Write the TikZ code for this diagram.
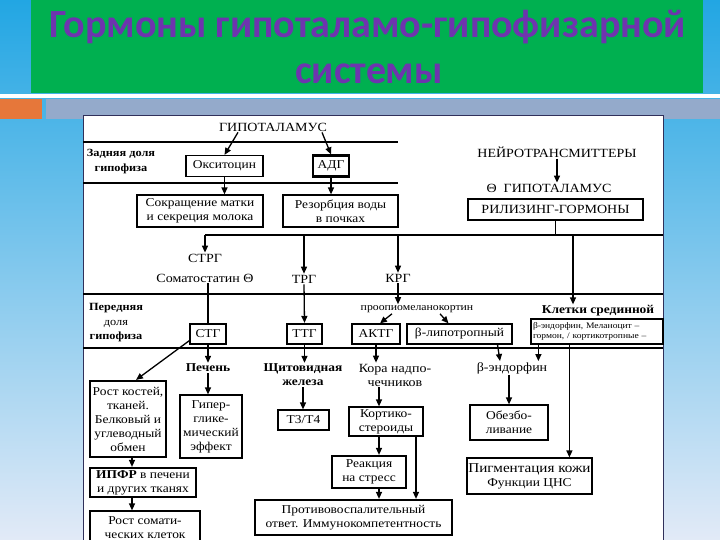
\documentclass[tikz,border=0pt]{standalone}
\usepackage{fontspec}
\setmainfont{Liberation Serif}[FakeStretch=1.12]
\newfontfamily\titlefont{Carlito}
\usetikzlibrary{arrows.meta,calc}
\definecolor{titlegreen}{HTML}{00B050}
\definecolor{titlepurple}{HTML}{6E34AE}
\definecolor{bgtop}{HTML}{22A6E3}
\definecolor{bgmid}{HTML}{80C9EE}
\definecolor{bgbot}{HTML}{E2EAF7}
\definecolor{orangebar}{HTML}{E6773A}
\definecolor{graybar}{HTML}{94AACB}
\definecolor{panelborder}{HTML}{30305A}
\newcommand\fsz[1]{\fontsize{#1}{#1}\selectfont}
\tikzset{
  hline/.style={line width=1.8pt},
  plainline/.style={line width=1.3pt},
  arr/.style={line width=1.3pt,-{Triangle[length=7pt,width=6pt]}},
  lbl/.style={align=center,inner sep=1pt,font=\fontsize{12.5}{14}\selectfont},
  blbl/.style={lbl,font=\bfseries\fontsize{12}{14}\selectfont},
  box/.style={draw,line width=1.2pt,fill=white,align=center,inner sep=1pt,font=\fontsize{12}{14}\selectfont},
  tbox/.style={box,line width=2.2pt},
}
\begin{document}
\begin{tikzpicture}[x=1pt,y=-1pt]
\useasboundingbox (0,0) rectangle (720,540);
% background
\shade[top color=bgtop, middle color=bgmid, bottom color=bgbot] (0,0) rectangle (720,540);
\fill[titlegreen] (31,0) rectangle (703,93);
\fill[white] (0,94) rectangle (720,98);
\fill[orangebar] (0,99) rectangle (42,119);
\fill[graybar] (46,99) rectangle (720,119);
\filldraw[fill=white,draw=panelborder,line width=0.8pt] (83,541) -- (83,115) -- (663,115) -- (663,541);
% title
\node[anchor=base,inner sep=0pt,text=titlepurple,font=\titlefont\bfseries\fontsize{40}{40}\selectfont] (t1) at (368,38) {Гормоны гипоталамо-гипофизарной};
\node[anchor=base,inner sep=0pt,text=titlepurple,font=\titlefont\bfseries\fontsize{40}{40}\selectfont] (t2) at (369,84) {системы};

% posterior lobe
\node[lbl] (hyp) at (273,127) {ГИПОТАЛАМУС};
\draw[hline] (83,142) -- (398,142);
\node[blbl,font=\bfseries\fontsize{11}{15}\selectfont] (zadn) at (121,162) {Задняя доля\\гипофиза};
\node[box,minimum width=77pt,minimum height=21pt] (oxy) at (224.5,166) {Окситоцин};
\node[tbox,minimum width=36pt,minimum height=21pt] (adg) at (331,166) {АДГ};
\draw[arr] ([xshift=-35pt]hyp.south) -- (oxy.north);
\draw[arr] ([xshift=49pt]hyp.south) -- (adg.north);
\draw[hline] (83,183) -- (398,183);
\node[box,minimum width=126pt,minimum height=32pt] (sokr) at (200,211) {Сокращение матки\\и секреция молока};
\node[box,minimum width=115pt,minimum height=32pt] (rez) at (340.5,211) {Резорбция воды\\в почках};
\draw[arr] (oxy.south) -- (oxy.south |- sokr.north);
\draw[arr] (adg.south) -- (adg.south |- rez.north);

% right top
\node[lbl] (neu) at (557,152) {НЕЙРОТРАНСМИТТЕРЫ};
\node[lbl] (hyp2) at (549,188) {Θ\ \ ГИПОТАЛАМУС};
\draw[arr] (neu.south) -- (neu.south |- hyp2.north);
\node[tbox,minimum width=175pt,minimum height=21pt,font=\fontsize{12.5}{14}\selectfont] (rel) at (555.5,209.5) {РИЛИЗИНГ-ГОРМОНЫ};
\coordinate (busL) at (205,235);
\coordinate (busR) at (663,235);
\coordinate (kx) at (573,235);
\draw[hline] (rel.south) -- (rel.south |- busL);
\draw[hline] (busL) -- (busR);

% releasing hormones
\node[lbl] (strg) at (205,258) {СТРГ};
\draw[arr] (busL) -- (strg.north);
\node[lbl] (som) at (205,278) {Соматостатин Θ};
\node[lbl] (trg) at (304,279) {ТРГ};
\draw[arr] (trg.north |- busL) -- (trg.north);
\node[lbl] (krg) at (398,278) {КРГ};
\draw[arr] (krg.north |- busL) -- (krg.north);

% anterior lobe
\draw[hline] (83,294) -- (663,294);
\node[blbl,font=\bfseries\fontsize{11}{14.5}\selectfont] (pered) at (116,323) {Передняя\\\mdseries доля\\гипофиза};
\node[lbl,font=\fontsize{10.5}{12}\selectfont] (proo) at (417,309) {проопиомеланокортин};
\draw[arr] (krg.south) -- (krg.south |- proo.north);
\node[box,minimum width=36pt,minimum height=20pt] (stg) at (208,334) {СТГ};
\node[tbox,minimum width=35pt,minimum height=20pt] (ttg) at (304.5,334) {ТТГ};
\node[box,minimum width=48pt,minimum height=20pt] (aktg) at (376,334) {АКТГ};
\node[box,minimum width=105pt,minimum height=20pt] (blip) at (459.5,334) {β-липотропный};
\draw[plainline] (som.south -| stg.north) -- (stg.north);
\draw[arr] (trg.south) -- (ttg.north);
\draw[arr] ([xshift=-25pt]proo.south) -- ([xshift=4pt]aktg.north);
\draw[arr] ([xshift=23pt]proo.south) -- ([xshift=-11pt]blip.north);
\node[blbl,font=\bfseries\fontsize{12}{14}\selectfont] (klet) at (598,311) {Клетки срединной};
\draw[arr] (kx) -- (kx |- klet.north);
\node[box,minimum width=132pt,minimum height=25pt,align=left,text width=128pt,font=\fontsize{8.5}{10.5}\selectfont] (kl) at (597,331.5) {β-эндорфин, Меланоцит –\\гормон, / кортикотропные –};
\draw[hline] (83,348) -- (663,348);

% targets
\node[blbl] (pech) at (208,368) {Печень};
\draw[arr] (stg.south) -- (pech.north);
\node[blbl] (shch) at (303,375) {Щитовидная\\железа};
\draw[arr] (ttg.south) -- (ttg.south |- shch.north);
\node[lbl] (kora) at (395,375) {Кора надпо-\\чечников};
\draw[arr] (aktg.south) -- (aktg.south |- kora.north);
\node[lbl] (bend) at (512,368) {β-эндорфин};
\draw[arr] ([xshift=38pt]blip.south) -- ([xshift=-12pt]bend.north);
\coordinate (k1) at ([xshift=8pt]kl.south west);
\coordinate (k2) at ([xshift=39pt]kl.south west);
\draw[arr] (k1) -- (k1 |- bend.north);

\node[tbox,minimum width=76pt,minimum height=76pt] (rost) at (128,419) {Рост костей,\\тканей.\\Белковый и\\углеводный\\обмен};
\node[box,minimum width=62pt,minimum height=63pt] (giper) at (211,426.5) {Гипер-\\глике-\\мический\\эффект};
\node[box,minimum width=51pt,minimum height=20pt] (t3) at (303.5,420) {Т3/Т4};
\node[box,minimum width=74pt,minimum height=29pt] (kort) at (386,421.5) {Кортико-\\стероиды};
\node[tbox,minimum width=74pt,minimum height=32pt] (rea) at (369,472) {Реакция\\на стресс};
\node[tbox,minimum width=197pt,minimum height=35pt] (prot) at (353.5,517.5) {Противовоспалительный\\ответ. Иммунокомпетентность};
\node[box,minimum width=78pt,minimum height=35pt] (obez) at (509,422.5) {Обезбо-\\ливание};
\node[box,minimum width=125pt,minimum height=36pt] (pigm) at (529.5,476) {{\fontsize{13.5}{15}\selectfont Пигментация кожи}\\Функции ЦНС};
\node[tbox,minimum width=106pt,minimum height=29pt] (ipfr) at (143,482.5) {\textbf{ИПФР} в печени\\и других тканях};
\node[box,minimum width=110pt,minimum height=34pt] (rsom) at (145,528) {Рост сомати-\\ческих клеток};

\draw[arr] ([yshift=4pt]stg.south west) -- ([xshift=8pt]rost.north);
\draw[arr] (pech.south) -- (pech.south |- giper.north);
\draw[arr] (shch.south) -- (shch.south |- t3.north);
\coordinate (c1) at ([xshift=-7pt]kort.north);
\coordinate (c2) at ([xshift=-7pt]kort.south);
\coordinate (c3) at ([xshift=30pt]kort.south);
\coordinate (c4) at ([xshift=10pt]rea.south);
\coordinate (c5) at ([xshift=4pt]rost.south);
\draw[arr] (c1 |- kora.south) -- (c1);
\draw[arr] (c2) -- (c2 |- rea.north);
\draw[arr] (c3) -- (c3 |- prot.north);
\draw[arr] (c4) -- (c4 |- prot.north);
\draw[arr] (obez.north |- bend.south) -- (obez.north);
\draw[arr] (k2) -- (k2 |- pigm.north);
\draw[arr] (c5) -- (c5 |- ipfr.north);
\draw[arr] (c5 |- ipfr.south) -- (c5 |- rsom.north);
\end{tikzpicture}
\end{document}
